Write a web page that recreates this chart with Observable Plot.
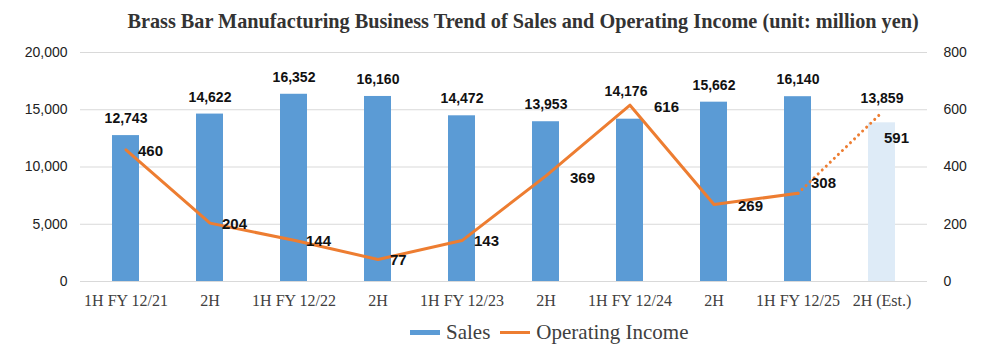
<!DOCTYPE html>
<html><head><meta charset="utf-8">
<script src="https://cdn.jsdelivr.net/npm/d3@7"></script>
<script src="https://cdn.jsdelivr.net/npm/@observablehq/plot@0.6"></script>
<style>
body{margin:0;background:#fff;width:1001px;height:359px;overflow:hidden;position:relative;font-family:"Liberation Sans",Arial,sans-serif}
#title{position:absolute;left:0;top:7px;width:1046px;text-align:center;line-height:28px;white-space:nowrap}
#title span{display:inline-block;font-family:"Liberation Serif","Times New Roman",serif;font-weight:bold;font-size:22px;color:#333;transform:scaleX(0.92);transform-origin:center}
#chart{position:absolute;left:0;top:40px}
#legend{position:absolute;top:318px;left:410px;height:28px;display:flex;align-items:center;white-space:nowrap}
#legend .lt{font-family:"Liberation Serif","Times New Roman",serif;font-size:21px;color:#404040}
.sw{display:inline-block;width:30px;height:5px;margin-right:6px}
</style></head>
<body>
<div id="title"><span>Brass Bar Manufacturing Business Trend of Sales and Operating Income (unit: million yen)</span></div>
<div id="chart"></div>
<div id="legend"><span class="sw" style="background:#5b9bd5"></span><span class="lt" style="margin-right:10px">Sales</span><span class="sw" style="background:#ed7d31;height:3px"></span><span class="lt">Operating Income</span></div>
<script>
const categories = ["1H FY 12/21","2H","1H FY 12/22","2H","1H FY 12/23","2H","1H FY 12/24","2H","1H FY 12/25","2H (Est.)"];
const sales = [12743,14622,16352,16160,14472,13953,14176,15662,16140,13859];
const income = [460,204,144,77,143,369,616,269,308,591];
const estimated = [false,false,false,false,false,false,false,false,false,true];
const salesTicks = [0,5000,10000,15000,20000];
const incomeTicks = [0,200,400,600,800];

const salesMax = salesTicks[salesTicks.length-1];
const incomeMax = incomeTicks[incomeTicks.length-1];
const k = salesMax / incomeMax;

const data = categories.map((c,i)=>({i, c, sales: sales[i], income: income[i], inc: income[i]*k, est: estimated[i]}));
const blue = "#5b9bd5", light = "#deebf7", orange = "#ed7d31";
const lastActual = data.filter(d=>!d.est).length - 1;

const pick = idx => data.filter(d => idx.includes(d.i));
const txt = {fontFamily:'"Liberation Sans",Arial,sans-serif', fontWeight:"bold", fill:"#111"};

const chart = Plot.plot({
  width: 1001, height: 280,
  marginLeft: 80, marginRight: 74, marginTop: 12, marginBottom: 39,
  style: {background:"#fff", fontFamily:'"Liberation Sans",Arial,sans-serif'},
  x: {type:"band", domain: d3.range(categories.length), paddingInner:0.68, paddingOuter:0.34, label:null},
  y: {domain:[0, salesMax], label:null},
  marks: [
    Plot.gridY({ticks: salesTicks, stroke:"#d9d9d9", strokeOpacity:1}),
    Plot.barY(data.filter(d=>!d.est), {x:"i", y:"sales", fill: blue}),
    Plot.barY(data.filter(d=>d.est), {x:"i", y:"sales", fill: light}),
    Plot.line(data.slice(0, lastActual+1), {x:"i", y:"inc", stroke: orange, strokeWidth:3, strokeLinejoin:"round"}),
    Plot.line(data.slice(lastActual), {x:"i", y:"inc", stroke: orange, strokeWidth:3, strokeDasharray:"0.01 5.6", strokeLinecap:"round"}),
    // sales labels
    Plot.text(pick([0,1,2,3,4,5,7,8]), {x:"i", y:"sales", text: d=>d3.format(",")(d.sales), dy:-17, fontSize:14, ...txt}),
    Plot.text(pick([6]), {x:"i", y:"sales", text: d=>d3.format(",")(d.sales), dy:-28, dx:-4, fontSize:14, ...txt}),
    Plot.text(pick([9]), {x:"i", y:"sales", text: d=>d3.format(",")(d.sales), dy:-24, fontSize:14, ...txt}),
    // income labels
    Plot.text(pick([0,1,2,3,4]), {x:"i", y:"inc", text: d=>String(d.income), textAnchor:"start", dx:12, dy:1, fontSize:15, ...txt}),
    Plot.text(pick([5,6,7]), {x:"i", y:"inc", text: d=>String(d.income), textAnchor:"start", dx:24, dy:2, fontSize:15, ...txt}),
    Plot.text(pick([8]), {x:"i", y:"inc", text: d=>String(d.income), textAnchor:"start", dx:13, dy:-10, fontSize:15, ...txt}),
    Plot.text(pick([9]), {x:"i", y:"inc", text: d=>String(d.income), textAnchor:"start", dx:2, dy:26, fontSize:15, ...txt}),
    // axes
    Plot.axisY({anchor:"left", ticks: salesTicks, tickSize:0, tickPadding:13, tickFormat: d3.format(","), fontSize:14, fill:"#222", label:null}),
    Plot.axisY({anchor:"right", ticks: incomeTicks.map(v=>v*k), tickSize:0, tickPadding:16, tickFormat: v=>String(v/k), fontSize:14, fill:"#222", label:null}),
    Plot.axisX({tickSize:0, tickPadding:13, tickFormat: i=>categories[i], fontSize:16, fontFamily:'"Liberation Serif","Times New Roman",serif', fill:"#404040", label:null})
  ]
});
document.getElementById("chart").appendChild(chart);
</script>
</body></html>
